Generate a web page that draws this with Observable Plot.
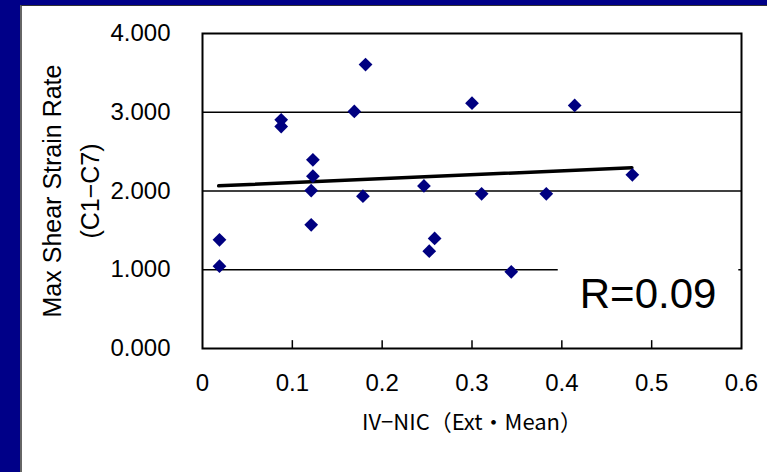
<!DOCTYPE html>
<html>
<head>
<meta charset="utf-8">
<script src="https://cdn.jsdelivr.net/npm/d3@7"></script>
<script src="https://cdn.jsdelivr.net/npm/@observablehq/plot@0.6"></script>
<style>
  html, body { margin: 0; padding: 0; }
  body { width: 767px; height: 472px; background: #000088; position: relative; overflow: hidden; }
  #panel { position: absolute; left: 20px; top: 5px; width: 745px; height: 466px; background: #fff;
           border-left: 2px solid #666; border-top: 1px solid #333; }
</style>
</head>
<body>
<div id="panel"></div>
<script>
// ---- data ----
const ivNic = [0.1815, 0.0876, 0.0876, 0.169, 0.300, 0.1229, 0.1229, 0.121, 0.1786, 0.2465,
               0.3107, 0.121, 0.4143, 0.3827, 0.4785, 0.0189, 0.0189, 0.2584, 0.2524, 0.3437];
const strainRate = [3.606, 2.904, 2.819, 3.010, 3.115, 2.396, 2.188, 2.006, 1.934, 2.065,
                    1.964, 1.571, 3.086, 1.964, 2.205, 1.380, 1.045, 1.397, 1.236, 0.974];
const trendX = [0.018, 0.478];
const trendY = [2.066, 2.295];
const xTicks = [0, 0.1, 0.2, 0.3, 0.4, 0.5, 0.6];
const yTicks = [0, 1, 2, 3, 4];
const gridY = [1, 2, 3];
const innerTicksX = [0.1, 0.2, 0.3, 0.4, 0.5];
const rLabel = ["R=0.09"];
const rLabelX = [0.496];
const rLabelY = [0.69];
const labelBoxX = [0.396, 0.597];
const labelBoxY = [0.75, 1.2];
const xTitle = "IV−NIC（Ext・Mean）";
const yTitle1 = "Max Shear Strain Rate";
const yTitle2 = "(C1−C7)";

const points = ivNic.map((x, i) => ({x, y: strainRate[i]}));
const trend = trendX.map((x, i) => ({x, y: trendY[i]}));
const box = [{x1: labelBoxX[0], x2: labelBoxX[1], y1: labelBoxY[0], y2: labelBoxY[1]}];
const rText = rLabel.map((t, i) => ({t, x: rLabelX[i], y: rLabelY[i]}));

const font = "'Liberation Sans', Arial, sans-serif";

const chart = Plot.plot({
  width: 745,
  height: 466,
  marginLeft: 180,
  marginRight: 26,
  marginTop: 27,
  marginBottom: 124,
  style: {fontFamily: font, fontSize: "24px", color: "black", background: "white", overflow: "visible"},
  x: {domain: [0, 0.6]},
  y: {domain: [0, 4]},
  marks: [
    Plot.ruleY(gridY, {stroke: "black", strokeWidth: 1.5}),
    Plot.rect(box, {x1: "x1", x2: "x2", y1: "y1", y2: "y2", fill: "white"}),
    Plot.ruleX(innerTicksX, {y1: 0, y2: 0.1, stroke: "black", strokeWidth: 1.5}),
    Plot.frame({stroke: "black", strokeWidth: 2}),
    Plot.axisX(xTicks, {tickSize: 0, tickPadding: 25, label: null, fontSize: 24, fontFamily: font,
                        tickFormat: d => String(d)}),
    Plot.axisY(yTicks, {tickSize: 0, tickPadding: 32, label: null, fontSize: 24, fontFamily: font,
                        tickFormat: d3.format(".3f")}),
    Plot.line(trend, {x: "x", y: "y", stroke: "black", strokeWidth: 3.5}),
    Plot.dot(points, {x: "x", y: "y", symbol: "diamond2", r: 6.2, fill: "#000080", stroke: "none"}),
    Plot.text(rText, {x: "x", y: "y", text: "t", fontSize: 42, fontFamily: font, fill: "black"}),
    Plot.text([yTitle1], {frameAnchor: "left", textAnchor: "middle", text: d => d, rotate: -90, dx: -150,
                          fontSize: 25, fontFamily: font, fill: "black"}),
    Plot.text([yTitle2], {frameAnchor: "left", textAnchor: "middle", text: d => d, rotate: -90, dx: -112,
                          fontSize: 25, fontFamily: font, fill: "black"}),
    Plot.text([xTitle], {frameAnchor: "bottom", text: d => d, dy: 81, fontSize: 22,
                         fontFamily: "'Noto Sans CJK JP', sans-serif", fill: "black"})
  ]
});
document.getElementById("panel").appendChild(chart);
</script>
</body>
</html>
